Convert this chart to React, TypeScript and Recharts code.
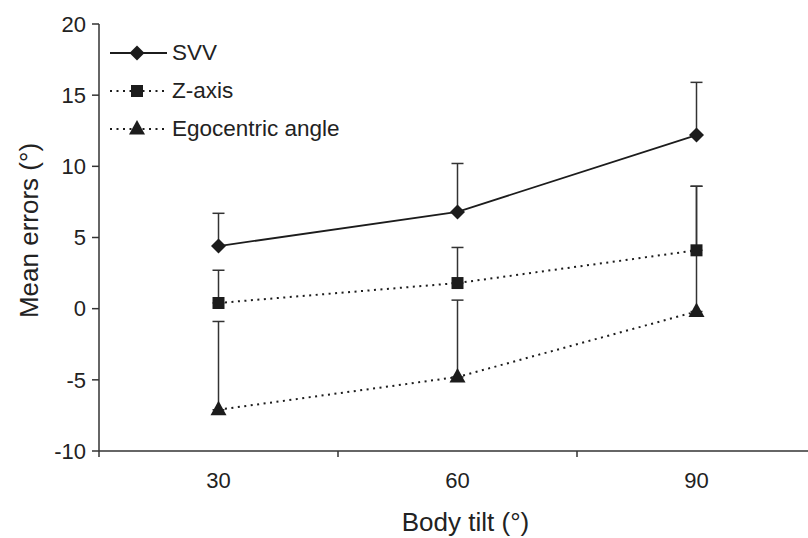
import React from 'react';
import { LineChart, Line, XAxis, YAxis, ErrorBar, ReferenceLine, Legend, Label } from 'recharts';

// body tilt conditions (degrees)
const tilts = [30, 60, 90];
const seriesNames = ['SVV', 'Z-axis', 'Egocentric angle'];

// mean errors and upward SD bars
const svv = [4.4, 6.8, 12.2];
const svvSd = [2.3, 3.4, 3.7];
const zAxis = [0.4, 1.8, 4.1];
const zAxisSd = [2.3, 2.5, 4.5];
const ego = [-7.1, -4.8, -0.2];
const egoSd = [6.2, 5.4, 8.8];

const yTicks = [-10, -5, 0, 5, 10, 15, 20];
const bandEdges = [15, 45, 75];

const FONT = '"Liberation Sans", Arial, sans-serif';
const INK = '#1c1c1c';

const data = tilts.map((t, i) => ({
  tilt: t,
  svv: svv[i],
  svvErr: [0, svvSd[i]],
  zAxis: zAxis[i],
  zAxisErr: [0, zAxisSd[i]],
  ego: ego[i],
  egoErr: [0, egoSd[i]],
}));

const diamondPath = (cx: number, cy: number) =>
  `M${cx},${cy - 7.5}L${cx + 7.5},${cy}L${cx},${cy + 7.5}L${cx - 7.5},${cy}Z`;
const squarePath = (cx: number, cy: number) =>
  `M${cx - 6},${cy - 6}H${cx + 6}V${cy + 6}H${cx - 6}Z`;
const trianglePath = (cx: number, cy: number) =>
  `M${cx},${cy - 9}L${cx + 8},${cy + 5.5}L${cx - 8},${cy + 5.5}Z`;

const makeDot = (shape: (cx: number, cy: number) => string) => (props: any) => {
  const { cx, cy, key } = props;
  if (cx == null || cy == null) return <g key={key} />;
  return <path key={key} d={shape(cx, cy)} fill={INK} />;
};

const legendRows = [
  { name: seriesNames[0], dash: undefined as string | undefined, shape: diamondPath },
  { name: seriesNames[1], dash: '2 4.5', shape: squarePath },
  { name: seriesNames[2], dash: '2 4.5', shape: trianglePath },
];

const LegendBox = () => (
  <div style={{ fontFamily: FONT }}>
    {legendRows.map((r) => (
      <div key={r.name} style={{ display: 'flex', alignItems: 'center', height: 38 }}>
        <svg width={58} height={20}>
          <line x1={0} y1={10} x2={57} y2={10} stroke={INK} strokeWidth={r.dash ? 2 : 1.8} strokeDasharray={r.dash} />
          <path d={r.shape(27, 10)} fill={INK} />
        </svg>
        <span style={{ marginLeft: 4, fontSize: 22.5, color: '#222', lineHeight: 1 }}>{r.name}</span>
      </div>
    ))}
  </div>
);

export default function App() {
  return (
    <div style={{ position: 'absolute', left: 0, top: 0, width: 808, height: 538, overflow: 'hidden', background: '#fff' }}>
      <LineChart width={830} height={538} data={data} margin={{ top: 24, right: 14, left: 0, bottom: 57 }}>
        <XAxis
          dataKey="tilt"
          type="number"
          domain={[15, 105]}
          ticks={tilts}
          height={30}
          tickLine={false}
          tickSize={7}
          tickMargin={14}
          axisLine={{ stroke: '#333', strokeWidth: 1.5 }}
          tick={{ fontSize: 22, fill: '#222', fontFamily: FONT }}
        >
          <Label
            content={(p: any) => {
              const vb = p.viewBox;
              return (
                <text x={vb.x + vb.width / 2 + 8} y={vb.y + 80} textAnchor="middle" fontSize={26} fill="#222" fontFamily={FONT}>
                  Body tilt (°)
                </text>
              );
            }}
          />
        </XAxis>
        <YAxis
          width={99}
          domain={[-10, 20]}
          ticks={yTicks}
          tickSize={7}
          tickMargin={6}
          axisLine={{ stroke: '#333', strokeWidth: 1.5 }}
          tickLine={{ stroke: '#333', strokeWidth: 1.5 }}
          tick={{ fontSize: 22, fill: '#222', fontFamily: FONT }}
        >
          <Label
            content={(p: any) => {
              const vb = p.viewBox;
              const x = vb.x + 29;
              const y = vb.y + vb.height / 2 - 7;
              return (
                <text x={x} y={y} transform={`rotate(-90 ${x} ${y})`} textAnchor="middle" dominantBaseline="central" fontSize={26} fill="#222" fontFamily={FONT}>
                  Mean errors (°)
                </text>
              );
            }}
          />
        </YAxis>
        {bandEdges.map((e) => (
          <ReferenceLine
            key={e}
            segment={[{ x: e, y: -10 }, { x: e, y: -10.42 }]}
            stroke="#333"
            strokeWidth={1.5}
            ifOverflow="visible"
          />
        ))}
        <Legend
          layout="vertical"
          align="center"
          verticalAlign="middle"
          content={<LegendBox />}
          wrapperStyle={{ left: 110, top: 34, width: 'auto' }}
        />
        <Line
          dataKey="svv"
          name={seriesNames[0]}
          stroke={INK}
          strokeWidth={1.8}
          dot={makeDot(diamondPath)}
          activeDot={false}
          isAnimationActive={false}
        >
          <ErrorBar dataKey="svvErr" width={6} stroke="#333" strokeWidth={1.5} direction="y" />
        </Line>
        <Line
          dataKey="zAxis"
          name={seriesNames[1]}
          stroke={INK}
          strokeWidth={2}
          strokeDasharray="2 4.5"
          dot={makeDot(squarePath)}
          activeDot={false}
          isAnimationActive={false}
        >
          <ErrorBar dataKey="zAxisErr" width={6} stroke="#333" strokeWidth={1.5} direction="y" />
        </Line>
        <Line
          dataKey="ego"
          name={seriesNames[2]}
          stroke={INK}
          strokeWidth={2}
          strokeDasharray="2 4.5"
          dot={makeDot(trianglePath)}
          activeDot={false}
          isAnimationActive={false}
        >
          <ErrorBar dataKey="egoErr" width={6} stroke="#333" strokeWidth={1.5} direction="y" />
        </Line>
      </LineChart>
    </div>
  );
}
